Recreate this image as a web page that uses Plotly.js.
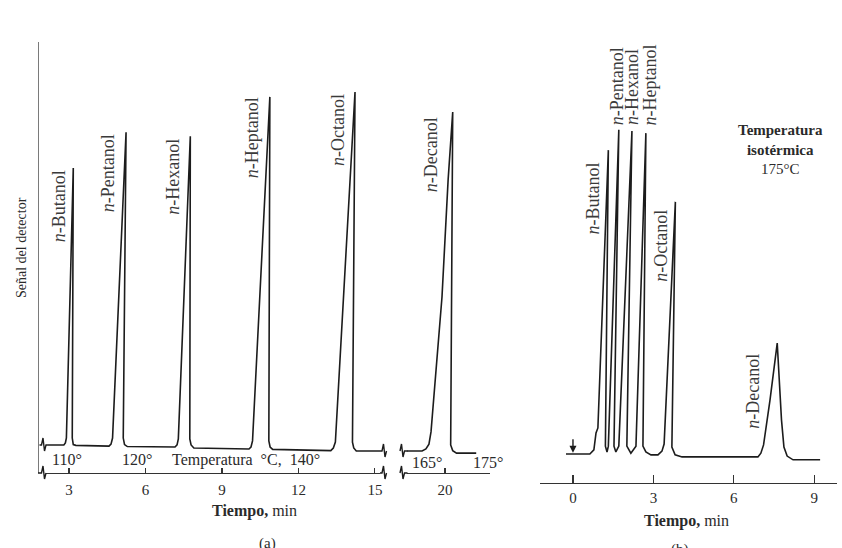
<!DOCTYPE html>
<html><head><meta charset="utf-8">
<script src="https://cdn.plot.ly/plotly-3.0.1.min.js"></script>
<style>html,body{margin:0;padding:0;background:#fff}#chart{width:842px;height:548px}</style>
</head><body><div id="chart"></div>
<script>
// ---------- DATA ----------
// (a) programmed temperature, part 1: time (min) and detector signal (arb. units)
const timeA1 = [2.14, 2.80, 2.86, 2.90, 3.17, 3.13, 3.17, 3.27, 4.57, 4.65, 4.71, 5.24, 5.13, 5.18, 5.29,
                7.16, 7.24, 7.29, 7.76, 7.74, 7.79, 7.90, 10.06, 10.14, 10.20, 10.88, 10.84, 10.89, 10.99,
                13.27, 13.37, 13.45, 14.22, 14.12, 14.17, 14.27, 15.20];
const signalA1 = [0.9, 0.9, 1.4, 2.6, 69.0, 2.6, 1.0, 0.8, 0.6, 1.1, 2.6, 77.8, 2.6, 1.0, 0.5,
                  0.4, 0.9, 2.4, 76.8, 2.4, 0.9, 0.15, -0.1, 0.4, 1.9, 86.5, 1.9, 0.4, -0.2,
                  -0.5, 0.15, 1.6, 87.7, 1.6, 0.15, -0.6, -0.6];
// (a) part 2 (after the axis break)
const timeA2 = [18.51, 19.10, 19.25, 19.37, 19.45, 19.88, 20.12, 20.30, 20.22, 20.30, 20.45, 21.22];
const signalA2 = [-0.6, -0.6, -0.1, 1.1, 4.1, 37.3, 66.1, 82.8, 0.9, -0.5, -1.1, -1.1];
// (b) isothermal 175 °C
const timeB = [-0.26, 0.63, 0.78, 0.86, 0.93, 1.32, 1.21, 1.27, 1.32, 1.71, 1.53, 1.60, 1.71, 2.20, 2.01, 2.16,
               2.35, 2.72, 2.61, 2.72, 2.91, 3.17, 3.32, 3.40, 3.82, 3.69, 3.81, 4.07, 6.90, 7.01, 7.11,
               7.35, 7.62, 7.78, 7.87, 7.99, 8.21, 9.22];
const signalB = [0, 0, 1.0, 5.1, 6.3, 73.4, 1.9, 0.5, 1.9, 78.3, 1.9, 0.5, 1.9, 78.0, 1.9, 0.2,
                 1.9, 77.5, 1.9, 0.5, -0.2, -0.2, 0.7, 2.4, 60.9, 1.7, -0.2, -0.7, -0.7, 0.2, 2.2,
                 13.0, 26.8, 8.2, 1.7, -0.5, -1.4, -1.4];

// peak names and apex positions
const peakNamesA = ['<i>n</i>-Butanol', '<i>n</i>-Pentanol', '<i>n</i>-Hexanol', '<i>n</i>-Heptanol', '<i>n</i>-Octanol', '<i>n</i>-Decanol'];
const peakTimeA = [3.17, 5.24, 7.76, 10.88, 14.22, 20.30];
const peakHeightA = [69.0, 77.8, 76.8, 86.5, 87.7, 82.8];
const peakNamesB = ['<i>n</i>-Butanol', '<i>n</i>-Pentanol', '<i>n</i>-Hexanol', '<i>n</i>-Heptanol', '<i>n</i>-Octanol', '<i>n</i>-Decanol'];
const peakTimeB = [1.32, 1.71, 2.20, 2.72, 3.82, 7.62];
const peakHeightB = [73.4, 78.3, 78.0, 77.5, 60.9, 26.8];

// tick labels and temperature marks
const ticksA1 = [3, 6, 9, 12, 15];
const ticksA2 = [20];
const ticksB = [0, 3, 6, 9];
const tempLabelsA1 = ['110°', '120°', 'Temperatura\u00a0 °C,\u00a0 140°'];
const tempTimesA1 = [2.92, 5.67, 9.94];
const tempLabelsA2 = ['165°', '175°'];
const tempTimesA2 = [19.29, 21.70];

// ---------- LAYOUT ----------
const W = 842, H = 548;
const px = x => x / W, py = y => 1 - y / H;
const serif = 'Liberation Serif, Times New Roman, serif';
const ink = '#1c1c1c', txt = '#2a2a2a', lab = '#3a3a3a';

const lineStyle = {color: ink, width: 1.6};
const traces = [
  {x: timeA1, y: signalA1, xaxis: 'x', yaxis: 'y', mode: 'lines', line: lineStyle, hoverinfo: 'skip'},
  {x: timeA2, y: signalA2, xaxis: 'x2', yaxis: 'y', mode: 'lines', line: lineStyle, hoverinfo: 'skip'},
  {x: timeB, y: signalB, xaxis: 'x3', yaxis: 'y3', mode: 'lines', line: lineStyle, hoverinfo: 'skip'}
];

const baseX = {
  showgrid: false, zeroline: false, showline: true, linecolor: '#333', linewidth: 1.3,
  ticks: 'inside', tickcolor: '#333', tickwidth: 1.2, tickmode: 'array',
  tickfont: {family: serif, size: 15, color: txt}, fixedrange: true
};

function zig(cx, cy, leftLen, rightLen) {
  const p = (x, y) => px(x) + ',' + py(y);
  return 'M' + p(cx - leftLen, cy) + ' L' + p(cx - 1.5, cy) + ' L' + p(cx, cy - 7) +
         ' L' + p(cx + 1.5, cy + 6) + ' L' + p(cx + 3, cy) + ' L' + p(cx + 3 + rightLen, cy);
}
const zigs = [zig(43, 445, 3.5, 1), zig(43, 473, 5, 0), zig(383.5, 451, 3.5, 0), zig(383.5, 473, 3.5, 0),
              zig(401.5, 451, 1.5, 3), zig(401.5, 473, 1.5, 3)];
const shapes = zigs.map(d => ({type: 'path', path: d, xref: 'paper', yref: 'paper',
  line: {color: ink, width: 1.4}}));

const ann = [];
// peak labels (a)
const offA = [[-14, 0], [-18, 0], [-17, 0], [-17, 2], [-17, 0], [-21, -3]];
peakNamesA.forEach((n, i) => ann.push({
  text: n, x: peakTimeA[i], y: peakHeightA[i], xref: i < 5 ? 'x' : 'x2', yref: 'y',
  textangle: -90, showarrow: false, xanchor: 'center', yanchor: 'top',
  xshift: offA[i][0], yshift: offA[i][1], font: {family: serif, size: 18, color: lab}
}));
// peak labels (b)
const offB = [[-15, -10, 'top'], [-1.5, 3, 'bottom'], [0, 4, 'bottom'], [4, 6, 'bottom'], [-14.5, -6, 'top'], [-25, -9, 'top']];
peakNamesB.forEach((n, i) => ann.push({
  text: n, x: peakTimeB[i], y: peakHeightB[i], xref: 'x3', yref: 'y3',
  textangle: -90, showarrow: false, xanchor: 'center', yanchor: offB[i][2],
  xshift: offB[i][0], yshift: offB[i][1], font: {family: serif, size: 18, color: lab}
}));
// temperature marks
tempLabelsA1.forEach((t, i) => ann.push({text: t, x: tempTimesA1[i], y: -2.8, xref: 'x', yref: 'y',
  xanchor: 'center', yanchor: 'middle', showarrow: false, font: {family: serif, size: 16, color: txt}}));
tempLabelsA2.forEach((t, i) => ann.push({text: t, x: tempTimesA2[i], y: -3.5, xref: 'x2', yref: 'y',
  xanchor: 'center', yanchor: 'middle', showarrow: false, font: {family: serif, size: 16, color: txt}}));
// injection arrow (b)
ann.push({x: 0, y: 0.3, xref: 'x3', yref: 'y3', ax: 0, ay: -15, showarrow: true, arrowhead: 2,
  arrowsize: 1, arrowwidth: 1.4, arrowcolor: ink, text: '', standoff: 0});
// titles and captions
const paperText = (text, x, y, size, extra) => ann.push(Object.assign({
  text: text, x: px(x), y: py(y), xref: 'paper', yref: 'paper', xanchor: 'center', yanchor: 'middle',
  showarrow: false, font: {family: serif, size: size, color: txt}}, extra || {}));
paperText('Señal del detector', 21, 248, 14, {textangle: -90});
paperText('<b>Tiempo,</b> min', 254, 510.5, 16);
paperText('<b>Tiempo,</b> min', 686, 521, 16);
paperText('<b>Temperatura</b><br><b>isotérmica</b><br>175°C', 780, 150, 15, {align: 'center'});
paperText('(a)', 267, 543, 15);
paperText('(b)', 680, 549, 15);

const layout = {
  width: W, height: H, margin: {l: 0, r: 0, t: 0, b: 0},
  paper_bgcolor: '#fff', plot_bgcolor: 'rgba(0,0,0,0)', showlegend: false,
  xaxis: Object.assign({}, baseX, {domain: [px(46), px(380)], range: [2.10, 15.20], anchor: 'y',
    tickvals: ticksA1, ticklen: 5, ticklabelstandoff: 3}),
  xaxis2: Object.assign({}, baseX, {domain: [px(407), px(490)], range: [18.51, 21.76], anchor: 'y',
    tickvals: ticksA2.concat([21.74]), ticktext: ticksA2.map(String).concat(['']), ticklen: 5, ticklabelstandoff: 3}),
  xaxis3: Object.assign({}, baseX, {domain: [px(540), px(837)], range: [-1.23, 9.85], anchor: 'y3',
    tickvals: ticksB, ticklen: 8, ticklabelstandoff: 1}),
  yaxis: {domain: [py(473), py(42)], range: [-6, 100], anchor: 'free', position: px(38),
    showline: true, linecolor: '#7a7a7a', linewidth: 1.2, showticklabels: false, ticks: '',
    showgrid: false, zeroline: false, fixedrange: true},
  yaxis3: {domain: [py(483), py(40)], range: [-7, 100], anchor: 'x3', showline: false,
    showticklabels: false, ticks: '', showgrid: false, zeroline: false, fixedrange: true},
  shapes: shapes,
  annotations: ann
};

Plotly.newPlot('chart', traces, layout, {displayModeBar: false, staticPlot: true});
</script></body></html>
